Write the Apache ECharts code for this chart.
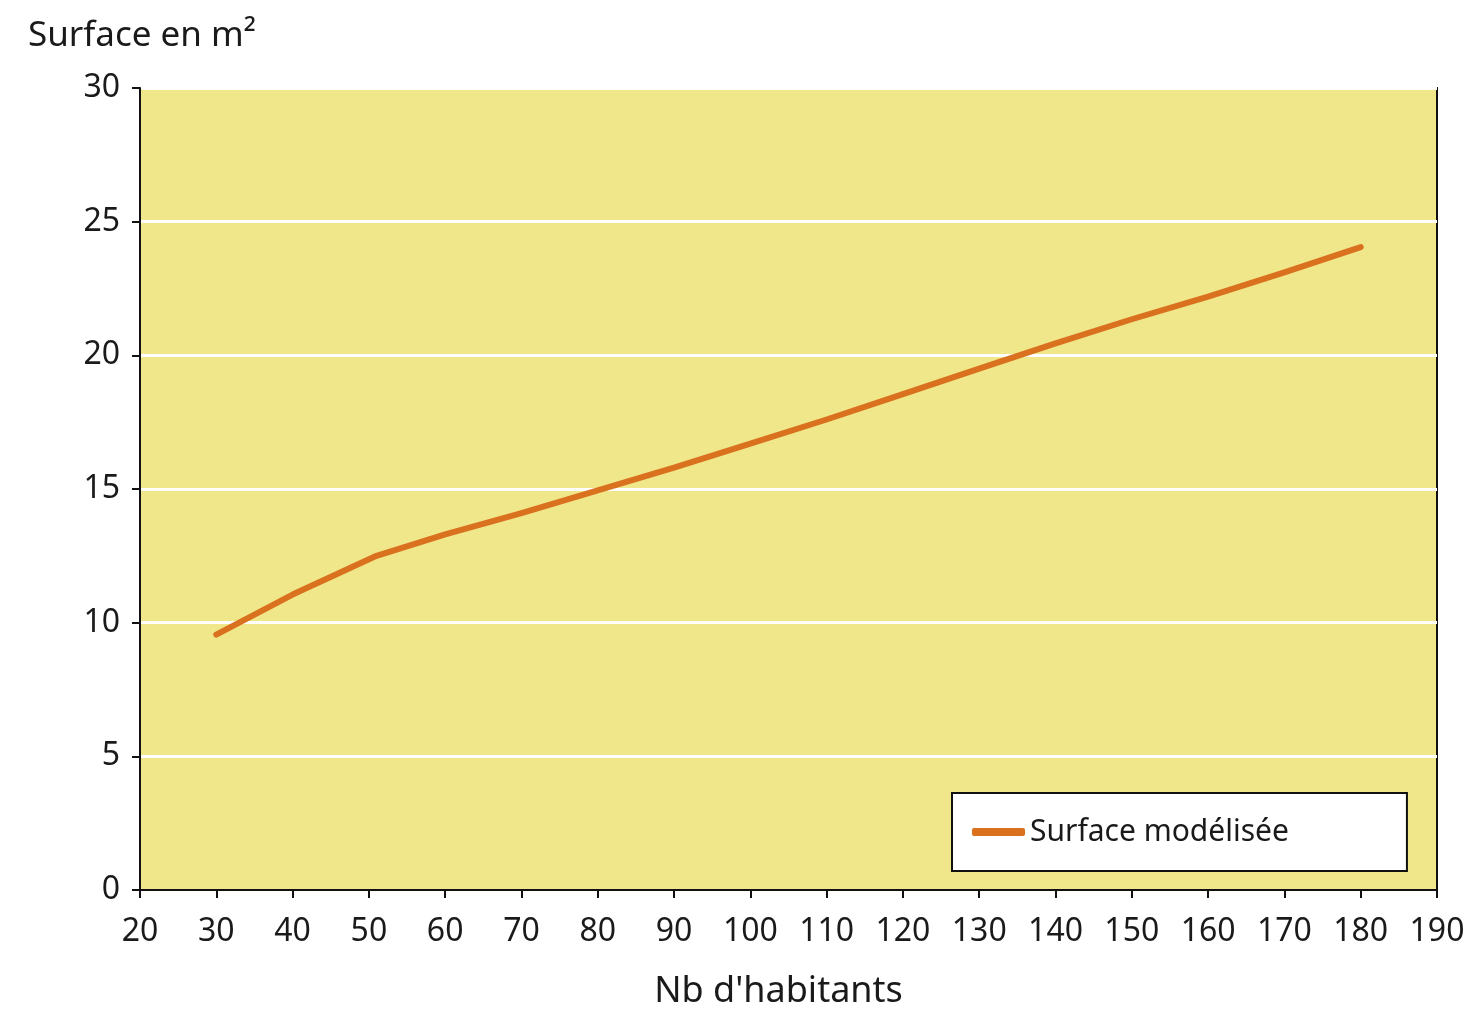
<!DOCTYPE html>
<html>
<head>
<meta charset="utf-8">
<script src="https://cdn.jsdelivr.net/npm/echarts@6/dist/echarts.min.js"></script>
<style>html,body{margin:0;padding:0;background:#fff}#c{width:1475px;height:1009px}</style>
</head>
<body>
<div id="c"></div>
<script>
const habitants = [30, 40, 51, 60, 70, 80, 90, 100, 110, 120, 130, 140, 150, 160, 170, 180];
const surface = [9.55, 11.05, 12.5, 13.3, 14.1, 14.95, 15.8, 16.7, 17.6, 18.55, 19.5, 20.45, 21.35, 22.2, 23.1, 24.05];
const seriesName = 'Surface modélisée';
const yTitle = 'Surface en m²';
const xTitle = "Nb d'habitants";

const font = '"Noto Sans", "Open Sans", sans-serif';
const chart = echarts.init(document.getElementById('c'));
chart.setOption({
  animation: false,
  backgroundColor: '#ffffff',
  title: {
    text: yTitle, left: 23, top: 14,
    textStyle: { fontFamily: font, fontSize: 35, fontWeight: 'normal', color: '#1a1a1a' }
  },
  grid: {
    left: 140, right: 38, top: 88, bottom: 119,
    outerBoundsMode: 'none', containLabel: false,
    show: true, backgroundColor: '#F0E68A', borderColor: '#111', borderWidth: 2
  },
  legend: {
    left: 952, top: 793,
    backgroundColor: '#ffffff', borderColor: '#111', borderWidth: 2,
    padding: [24, 118, 24, 20],
    itemWidth: 53, itemHeight: 8, itemGap: 10,
    icon: 'roundRect',
    textStyle: { fontFamily: font, fontSize: 30, color: '#1a1a1a' },
    data: [seriesName]
  },
  xAxis: {
    type: 'value', min: 20, max: 190, interval: 10,
    name: xTitle, nameLocation: 'middle', nameGap: 84,
    nameTextStyle: { fontFamily: font, fontSize: 36, color: '#1a1a1a', padding: [0, 20, 0, 0] },
    axisLine: { show: true, lineStyle: { color: '#111', width: 2 } },
    axisTick: { show: true, length: 8, lineStyle: { color: '#111', width: 2 } },
    axisLabel: { fontFamily: font, fontSize: 32, color: '#1a1a1a', margin: 26 },
    splitLine: { show: false }
  },
  yAxis: {
    type: 'value', min: 0, max: 30, interval: 5,
    axisLine: { show: true, lineStyle: { color: '#111', width: 2 } },
    axisTick: { show: true, length: 8, lineStyle: { color: '#111', width: 2 } },
    axisLabel: { fontFamily: font, fontSize: 32, color: '#1a1a1a', margin: 20 },
    splitLine: { show: true, lineStyle: { color: '#ffffff', width: 3 } }
  },
  series: [{
    name: seriesName, type: 'line',
    data: habitants.map((h, i) => [h, surface[i]]),
    showSymbol: false, symbol: 'none',
    lineStyle: { color: '#D9711E', width: 6, cap: 'round', join: 'round' },
    itemStyle: { color: '#D9711E' }
  }]
});
</script>
</body>
</html>
